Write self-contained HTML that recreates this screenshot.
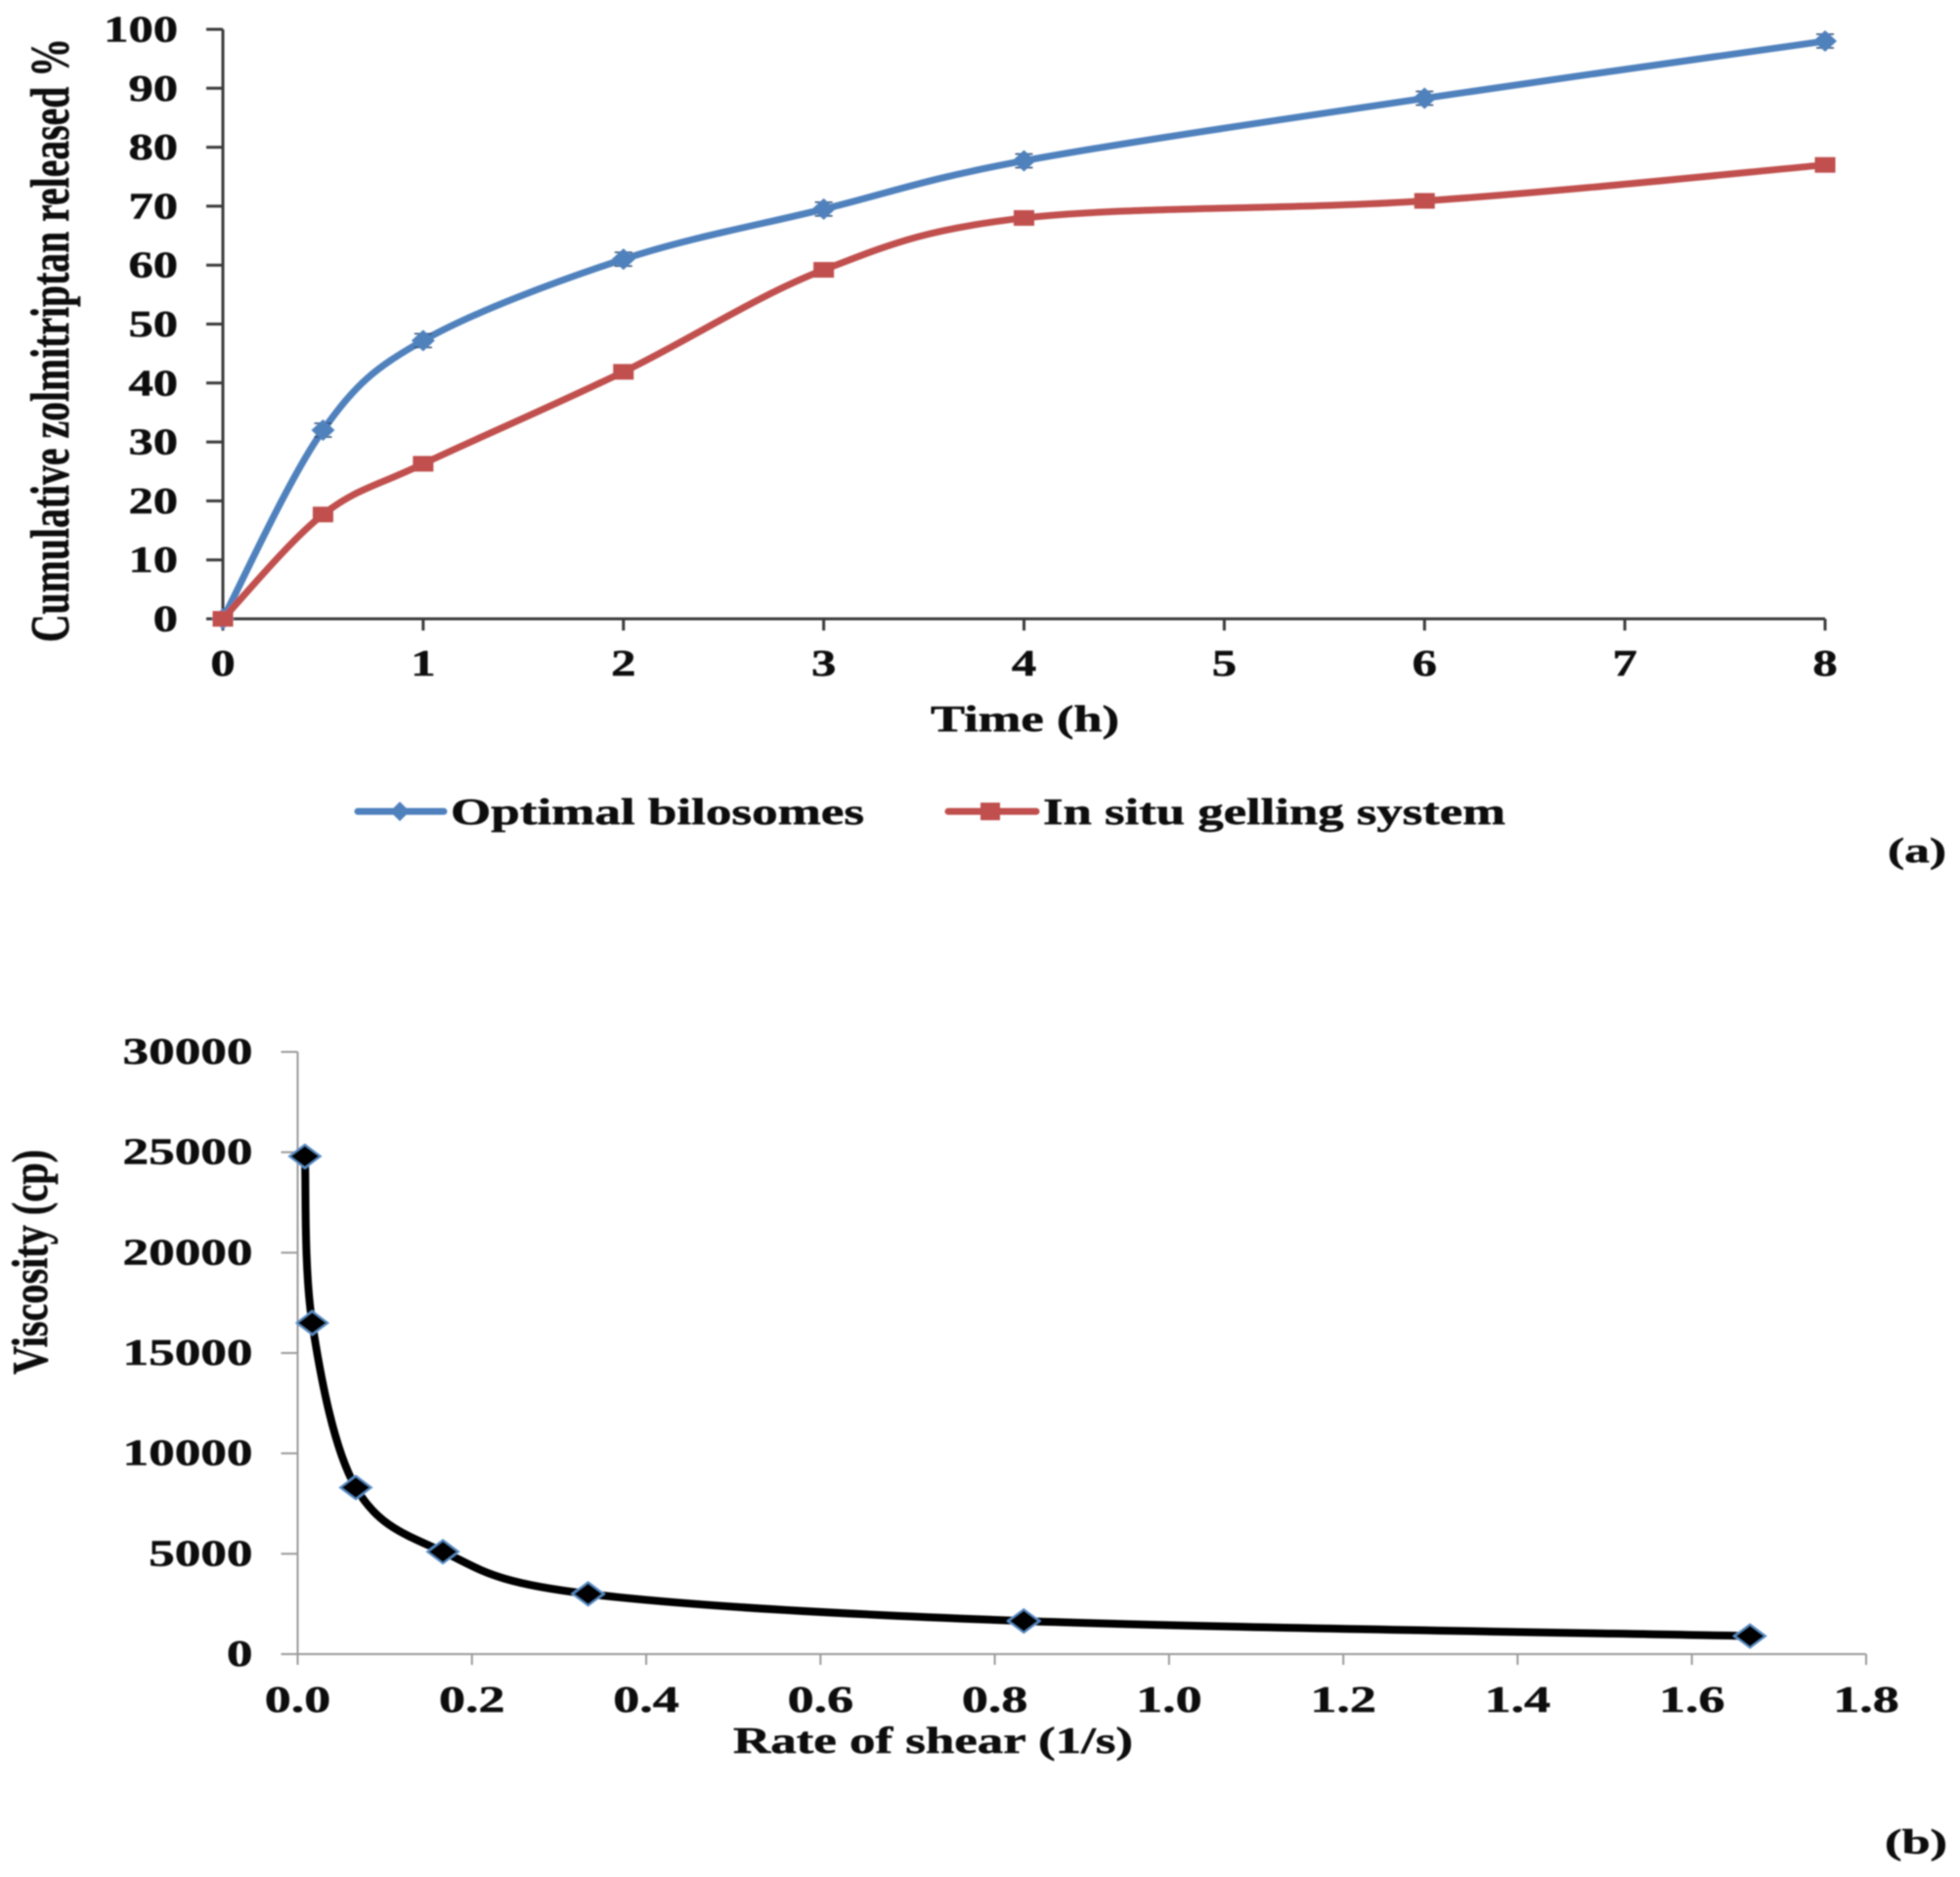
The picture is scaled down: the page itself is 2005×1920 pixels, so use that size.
<!DOCTYPE html>
<html lang="en">
<head>
<meta charset="utf-8">
<title>Zolmitriptan release and viscosity charts</title>
<style>
html,body{margin:0;padding:0;background:#fff;width:2005px;height:1920px;overflow:hidden}
svg{display:block}
text{font-family:"Liberation Serif",serif;font-weight:700;fill:#0a0a0a;stroke:#0a0a0a;stroke-width:0.5px}
</style>
</head>
<body>
<svg id="figure" xmlns="http://www.w3.org/2000/svg" width="2005" height="1920" viewBox="0 0 2005 1920">
<defs><filter id="soft" x="-2%" y="-2%" width="104%" height="104%"><feGaussianBlur stdDeviation="0.9"/></filter></defs>
<g filter="url(#soft)">
<g id="chartA">
<text transform="translate(70,657) rotate(-90)" font-size="56" textLength="618" lengthAdjust="spacingAndGlyphs">Cumulative zolmitriptan released %</text>
<text x="952" y="748" font-size="38" textLength="193" lengthAdjust="spacingAndGlyphs">Time (h)</text>
<g>
<g>
<line x1="366" y1="830" x2="454" y2="830" stroke="#4f81bd" stroke-width="7" stroke-linecap="round"/>
<path d="M409 820l10 10l-10 10l-10-10z" fill="#4f81bd"/>
<text x="461" y="843" font-size="38" textLength="423" lengthAdjust="spacingAndGlyphs">Optimal bilosomes</text>
</g>
<g>
<line x1="970" y1="830" x2="1060" y2="830" stroke="#c0504d" stroke-width="7" stroke-linecap="round"/>
<rect x="1003" y="821" width="20" height="18" fill="#c0504d"/>
<text x="1067" y="843" font-size="38" textLength="473" lengthAdjust="spacingAndGlyphs">In situ gelling system</text>
</g>
</g>
<text x="1931" y="882" font-size="36" textLength="60" lengthAdjust="spacingAndGlyphs">(a)</text>
</g>
<g id="chartB">
<text transform="translate(48,1406) rotate(-90)" font-size="52" textLength="230" lengthAdjust="spacingAndGlyphs">Viscosity (cp)</text>
<text x="750" y="1793" font-size="38" textLength="409" lengthAdjust="spacingAndGlyphs">Rate of shear (1/s)</text>
<text x="1928" y="1896" font-size="36" textLength="64" lengthAdjust="spacingAndGlyphs">(b)</text>
</g>
</g>
</svg>
<script>
const releaseTimes = [0, 0.5, 1, 2, 3, 4, 6, 8];
const bilosomeValues = [0, 32, 47.2, 61, 69.5, 77.7, 88.3, 98];
const gellingValues = [0, 17.7, 26.3, 41.9, 59.2, 68, 70.9, 77];
const releaseYTicks = [0, 10, 20, 30, 40, 50, 60, 70, 80, 90, 100];
const releaseXTicks = [0, 1, 2, 3, 4, 5, 6, 7, 8];
const shearRates = [0.0083, 0.0167, 0.0667, 0.1667, 0.3333, 0.8333, 1.6667];
const viscosityValues = [24800, 16500, 8300, 5100, 3000, 1650, 900];
const viscosityYTicks = [0, 5000, 10000, 15000, 20000, 25000, 30000];
const shearXTicks = ["0.0", "0.2", "0.4", "0.6", "0.8", "1.0", "1.2", "1.4", "1.6", "1.8"];

const NS = "http://www.w3.org/2000/svg";
const chartA = document.getElementById("chartA");
const chartB = document.getElementById("chartB");
const xA = v => 228 + (v / 8) * (1867 - 228);
const yA = v => 633 - (v / 100) * (633 - 30);
const xB = v => 304.5 + (v / 1.8) * (1909 - 304.5);
const yB = v => 1692 - (v / 30000) * (1692 - 1076);

function make(parent, tag, attrs) {
  const el = document.createElementNS(NS, tag);
  for (const k in attrs) el.setAttribute(k, attrs[k]);
  parent.appendChild(el);
  return el;
}
function tickText(parent, str, x, y, anchor, sx) {
  const t = make(parent, "text", { x: x, y: y, "font-size": 38, "text-anchor": anchor });
  t.textContent = str;
  t.setAttribute("textLength", (t.getComputedTextLength() * sx).toFixed(1));
  t.setAttribute("lengthAdjust", "spacingAndGlyphs");
  return t;
}
function smoothPath(pts) {
  let d = "M" + pts[0][0] + " " + pts[0][1];
  for (let i = 0; i < pts.length - 1; i++) {
    const p0 = pts[Math.max(0, i - 1)], p1 = pts[i], p2 = pts[i + 1], p3 = pts[Math.min(pts.length - 1, i + 2)];
    const c1x = p1[0] + (p2[0] - p0[0]) / 6, c1y = p1[1] + (p2[1] - p0[1]) / 6;
    const c2x = p2[0] - (p3[0] - p1[0]) / 6, c2y = p2[1] - (p3[1] - p1[1]) / 6;
    d += "C" + c1x + " " + c1y + " " + c2x + " " + c2y + " " + p2[0] + " " + p2[1];
  }
  return d;
}

/* release chart axes */
const axisA = make(chartA, "g", {});


const yLineA = make(axisA, "line", { x1: xA(0), x2: xA(0), y1: yA(100), y2: yA(0), stroke: "#3a3a3a", "stroke-width": 3 });


const xLineA = make(axisA, "line", { x1: xA(0), x2: xA(8), y1: yA(0), y2: yA(0), stroke: "#3a3a3a", "stroke-width": 3 });


releaseYTicks.forEach(v => {
  const m = make(axisA, "line", { x1: xA(0) - 17, x2: xA(0), y1: yA(v), y2: yA(v), stroke: "#3a3a3a", "stroke-width": 3 });
  
  
  const t = tickText(axisA, String(v), 182, yA(v) + 12.5, "end", 1.33);
  
  
});
releaseXTicks.forEach(v => {
  const m = make(axisA, "line", { x1: xA(v), x2: xA(v), y1: yA(0), y2: yA(0) + 12, stroke: "#3a3a3a", "stroke-width": 3 });
  
  
  const t = tickText(axisA, String(v), xA(v), 691, "middle", 1.33);
  
  
});

/* release chart series */
const redPts = releaseTimes.map((t, i) => [xA(t), yA(gellingValues[i])]);
const bluePts = releaseTimes.map((t, i) => [xA(t), yA(bilosomeValues[i])]);
const blueLine = make(chartA, "path", { d: smoothPath(bluePts), fill: "none", stroke: "#4f81bd", "stroke-width": 7 });


bluePts.forEach(p => {
  const bar = make(chartA, "path", { d: `M${p[0] - 9} ${p[1] - 7}h18M${p[0] - 9} ${p[1] + 7}h18M${p[0]} ${p[1] - 7}v14`, stroke: "#2b4a6f", "stroke-width": 1.5, fill: "none" });
  
  
  const dm = make(chartA, "path", { d: `M${p[0]} ${p[1] - 11}l12 11l-12 11l-12-11z`, fill: "#4f81bd" });
  
  
});
const redLine = make(chartA, "path", { d: smoothPath(redPts), fill: "none", stroke: "#c0504d", "stroke-width": 7 });


redPts.forEach(p => {
  const sq = make(chartA, "rect", { x: p[0] - 10.5, y: p[1] - 8, width: 21, height: 16, fill: "#c0504d" });
  
  
});

/* viscosity chart axes */
const axisB = make(chartB, "g", {});


const yLineB = make(axisB, "line", { x1: xB(0), x2: xB(0), y1: yB(30000), y2: yB(0), stroke: "#9a9a9a", "stroke-width": 2 });


const xLineB = make(axisB, "line", { x1: xB(0), x2: xB(1.8), y1: yB(0), y2: yB(0), stroke: "#9a9a9a", "stroke-width": 2 });


viscosityYTicks.forEach(v => {
  const m = make(axisB, "line", { x1: xB(0) - 17, x2: xB(0), y1: yB(v), y2: yB(v), stroke: "#9a9a9a", "stroke-width": 2 });
  
  
  const t = tickText(axisB, String(v), 258.5, yB(v) + 12, "end", 1.4);
  
  
});
shearXTicks.forEach(s => {
  const v = parseFloat(s);
  const m = make(axisB, "line", { x1: xB(v), x2: xB(v), y1: yB(0), y2: yB(0) + 11, stroke: "#9a9a9a", "stroke-width": 2 });
  
  
  const t = tickText(axisB, s, xB(v), 1751, "middle", 1.42);
  
  
});

/* viscosity series */
const blackPts = shearRates.map((r, i) => [xB(r), yB(viscosityValues[i])]);
const blackLine = make(chartB, "path", { d: smoothPath(blackPts), fill: "none", stroke: "#000", "stroke-width": 8 });


blackPts.forEach(p => {
  const dm = make(chartB, "path", { d: `M${p[0]} ${p[1] - 12}l16 12l-16 12l-16-12z`, fill: "#000", stroke: "#5b8fc7", "stroke-width": 2 });
  
  
});
</script>
</body>
</html>
